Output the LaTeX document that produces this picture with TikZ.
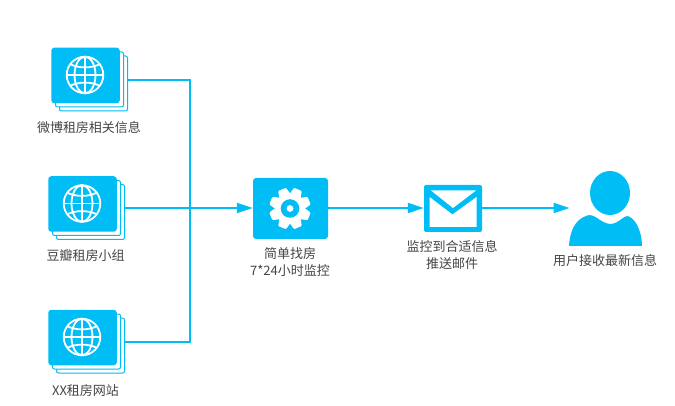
\documentclass[tikz,border=0pt]{standalone}
\usepackage{fontspec}
\usetikzlibrary{arrows.meta,shapes.geometric}
\setmainfont{Noto Sans CJK SC}
\definecolor{sky}{HTML}{00BDF6}
\definecolor{ink}{HTML}{444444}
\tikzset{
  flow/.style={draw=sky,line width=1.7pt},
  flowarrow/.style={flow,-{Triangle[length=16pt,width=10pt,fill=sky]}},
  sheet/.style={draw=sky,fill=white,line width=1pt,rounded corners=2pt,inner sep=0pt,minimum width=68pt,minimum height=55pt},
  front/.style={fill=sky,rounded corners=3pt,inner sep=0pt,minimum width=68.5pt,minimum height=55.5pt},
  label/.style={text=ink,font=\fontsize{13}{17}\selectfont,align=center,inner sep=0pt},
  globeline/.style={draw=white,line width=1.8pt},
  card/.pic={
    \node[sheet] (-back) at (42.5,35.5) {};
    \node[sheet] at (38.5,31.5) {};
    \node[front] (-front) at (34.5,27.5) {};
    \begin{scope}[shift={(34,27)}]
      \draw[globeline] (0,0) circle (18.3);
      \draw[globeline] (0,-18.3) -- (0,18.3) (-18.3,0) -- (18.3,0);
      \draw[globeline] (0,0) ellipse (10.5 and 18.3);
      \draw[globeline] (-15,-11) .. controls (-7,-6.5) and (7,-6.5) .. (15,-11);
      \draw[globeline] (-15,11) .. controls (-7,6.5) and (7,6.5) .. (15,11);
    \end{scope}
  }
}
\begin{document}
\begin{tikzpicture}[x=1pt,y=-1pt]
  \useasboundingbox (0,0) rectangle (675,406);

  % source cards
  \pic (weibo) at (51,48) {card};
  \pic (douban) at (48,176.5) {card};
  \pic (site) at (48,310) {card};
  \node[label] (weibolabel) at (89,128) {微博租房相关信息};
  \node[label] (doubanlabel) at (85.5,256) {豆瓣租房小组};
  \node[label] (sitelabel) at (85.5,391) {XX租房网站};

  % monitor box with gear
  \node[fill=sky,rounded corners=3pt,inner sep=0pt,minimum width=75pt,minimum height=61pt] (monitor) at (290.5,208.5) {};
  \begin{scope}[shift={(290,208.5)}]
    \fill[white] (0,0) circle (15);
    \foreach \a in {22.5,67.5,...,337.5}
      \fill[white,rounded corners=1pt,rotate=\a] (13,-6) -- (20.7,-4.2) -- (20.7,4.2) -- (13,6) -- cycle;
    \fill[sky] (0,0) circle (9.3);
    \fill[white] (0,0) circle (3.4);
  \end{scope}
  \node[label] (monitorlabel) at (290,262.5) {简单找房\\7*24小时监控};

  % mail box
  \node[fill=sky,rounded corners=2pt,inner sep=0pt,minimum width=58pt,minimum height=47pt] (mail) at (453,208.5) {};
  \fill[white] (429.5,197) -- (452.5,214.5) -- (476.5,197) -- (476.5,227) -- (429.5,227) -- cycle;
  \fill[white] (431,190.5) -- (476,190.5) -- (453,208) -- cycle;
  \node[label] (maillabel) at (452,255) {监控到合适信息\\推送邮件};

  % recipient
  \node[fill=sky,ellipse,inner sep=0pt,minimum width=40pt,minimum height=44pt] (head) at (610,193) {};
  \fill[sky] (569,246)
    .. controls (570,232) and (574,220) .. (587,215.5)
    .. controls (595,213) and (600,223) .. (610,224)
    .. controls (620,224) and (624,213) .. (630,217)
    .. controls (638,222) and (642,235) .. (642,246) -- cycle;
  \coordinate (person) at (569.5,208);
  \node[label] (personlabel) at (605,261) {用户接收最新信息};

  % connectors
  \coordinate (bus) at (190,208);
  \draw[flow] ([yshift=3.5pt]weibo-back.east) -| (bus);
  \draw[flow] ([yshift=3.5pt]site-back.east) -| (bus);
  \draw[flowarrow] ([yshift=4pt]douban-back.east) -- (monitor.west |- bus);
  \draw[flowarrow] (monitor.east |- bus) -- (mail.west |- bus);
  \draw[flowarrow] (mail.east |- bus) -- (person);
\end{tikzpicture}
\end{document}
